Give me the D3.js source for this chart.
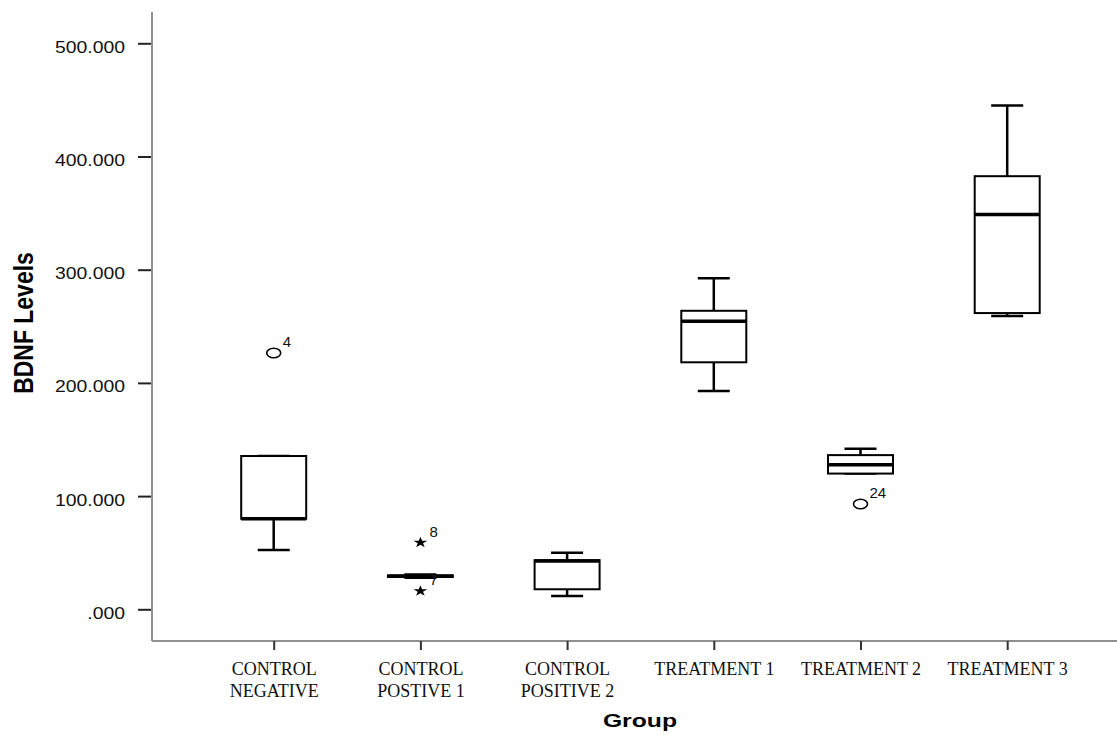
<!DOCTYPE html>
<html>
<head>
<meta charset="utf-8">
<script src="https://cdn.jsdelivr.net/npm/d3@7"></script>
<style>
  html, body { margin: 0; padding: 0; background: #fff; }
  svg { display: block; }
</style>
</head>
<body>
<div id="chart"></div>
<script>
// Box plot values (BDNF levels per group)
const groups = ["CONTROL NEGATIVE", "CONTROL POSTIVE 1", "CONTROL POSITIVE 2", "TREATMENT 1", "TREATMENT 2", "TREATMENT 3"];
const groupLabelLines = [["CONTROL", "NEGATIVE"], ["CONTROL", "POSTIVE 1"], ["CONTROL", "POSITIVE 2"], ["TREATMENT 1"], ["TREATMENT 2"], ["TREATMENT 3"]];
const whiskerLow  = [52.4, 27.8, 11.7, 192.8, 119.9, 259.1];
const q1          = [80.0, 28.6, 17.7, 218.2, 119.9, 261.7];
const median      = [80.0, 29.3, 42.6, 254.5, 127.7, 348.7];
const q3          = [135.4, 30.0, 43.4, 263.7, 136.2, 382.6];
const whiskerHigh = [135.4, 30.8, 50.0, 292.4, 141.8, 445.1];

// outliers: group, value, case number, marker (o = outlier, * = extreme)
const outlierGroup = ["CONTROL NEGATIVE", "CONTROL POSTIVE 1", "CONTROL POSTIVE 1", "TREATMENT 2"];
const outlierValue = [226.4, 59.0, 16.2, 93.0];
const outlierCase  = ["4", "8", "7", "24"];
const outlierMark  = ["o", "*", "*", "o"];

const yTicks = [0, 100, 200, 300, 400, 500];

function BoxPlot(container) {
    const width = 1117, height = 735;
    // plot frame
    const frame = { left: 152, right: 1117, top: 12, bottom: 641 };

    const svg = d3.select(container).append("svg")
        .attr("width", width)
        .attr("height", height);

    const x = d3.scalePoint().domain(groups).range([273.7, 1007.2]);
    const y = d3.scaleLinear().domain([0, 500]).range([609.3, 43.3]);

    const yFormat = d => d === 0 ? ".000" : d3.format(".3f")(d);

    // stretch text horizontally along its own direction
    function stretch(sel, k) {
        sel.each(function () {
            const w = this.getComputedTextLength();
            d3.select(this).attr("textLength", w * k).attr("lengthAdjust", "spacingAndGlyphs");
        });
    }

    // axis lines
    svg.append("line")
        .attr("x1", frame.left).attr("x2", frame.left)
        .attr("y1", frame.top).attr("y2", frame.bottom)
        .attr("stroke", "#8f8f8f").attr("stroke-width", 2);
    svg.append("line")
        .attr("x1", frame.left).attr("x2", frame.right)
        .attr("y1", frame.bottom).attr("y2", frame.bottom)
        .attr("stroke", "#8f8f8f").attr("stroke-width", 2);

    // y axis
    const yAxis = d3.axisLeft(y).tickValues(yTicks).tickFormat(yFormat).tickSize(13).tickPadding(13);
    const yg = svg.append("g")
        .attr("transform", `translate(${frame.left - 1},0)`)
        .call(yAxis);
    yg.select(".domain").remove();
    yg.selectAll(".tick line").attr("stroke", "#222").attr("stroke-width", 2);
    yg.selectAll(".tick text")
        .attr("dy", "0.53em")
        .style("font-family", "'Liberation Sans', Arial, sans-serif")
        .style("font-size", "17px")
        .attr("fill", "#111")
        .call(stretch, 1.14);

    // x axis
    const xAxis = d3.axisBottom(x).tickSize(9).tickFormat("");
    const xg = svg.append("g")
        .attr("transform", `translate(0,${frame.bottom})`)
        .call(xAxis);
    xg.select(".domain").remove();
    xg.selectAll(".tick line").attr("stroke", "#333").attr("stroke-width", 2);
    xg.selectAll(".tick").each(function (d, i) {
        const t = d3.select(this).append("text")
            .attr("fill", "#111")
            .attr("text-anchor", "middle")
            .style("font-family", "'Liberation Serif', 'Times New Roman', serif")
            .style("font-size", "18px");
        groupLabelLines[i].forEach((line, j) => {
            t.append("tspan").attr("x", 0).attr("y", 34 + j * 22).text(line);
        });
    });

    // axis titles
    svg.append("text")
        .attr("transform", "translate(33,323) rotate(-90)")
        .attr("text-anchor", "middle")
        .style("font-family", "'Liberation Sans', Arial, sans-serif")
        .style("font-weight", "bold")
        .style("font-size", "27px")
        .text("BDNF Levels")
        .call(stretch, 0.85);

    svg.append("text")
        .attr("x", 640)
        .attr("y", 727)
        .attr("text-anchor", "middle")
        .style("font-family", "'Liberation Sans', Arial, sans-serif")
        .style("font-weight", "bold")
        .style("font-size", "18.6px")
        .text("Group")
        .call(stretch, 1.33);

    // boxes
    const boxW = 65, capW = 32;
    const data = groups.map((g, i) => ({
        g, lo: whiskerLow[i], q1: q1[i], med: median[i], q3: q3[i], hi: whiskerHigh[i]
    }));

    const box = svg.append("g").selectAll("g").data(data).join("g")
        .attr("transform", d => `translate(${x(d.g)},0)`)
        .attr("stroke", "#000")
        .attr("fill", "none");

    // whisker stems
    box.append("line")
        .attr("y1", d => y(d.hi)).attr("y2", d => y(d.q3))
        .attr("stroke-width", 2.5);
    box.append("line")
        .attr("y1", d => y(d.q1)).attr("y2", d => y(d.lo))
        .attr("stroke-width", 2.5);
    // caps
    box.append("line")
        .attr("x1", -capW / 2).attr("x2", capW / 2)
        .attr("y1", d => y(d.hi)).attr("y2", d => y(d.hi))
        .attr("stroke-width", 2.5);
    box.append("line")
        .attr("x1", -capW / 2).attr("x2", capW / 2)
        .attr("y1", d => y(d.lo)).attr("y2", d => y(d.lo))
        .attr("stroke-width", 2.5);
    // box
    box.append("rect")
        .attr("x", -boxW / 2)
        .attr("width", boxW)
        .attr("y", d => y(d.q3))
        .attr("height", d => y(d.q1) - y(d.q3))
        .attr("fill", "#fff")
        .attr("stroke-width", 2);
    // median
    box.append("line")
        .attr("x1", -boxW / 2).attr("x2", boxW / 2)
        .attr("y1", d => y(d.med)).attr("y2", d => y(d.med))
        .attr("stroke-width", 3.5);

    // outliers
    const out = outlierGroup.map((g, i) => ({ g, v: outlierValue[i], id: outlierCase[i], m: outlierMark[i] }));
    const og = svg.append("g").selectAll("g").data(out).join("g")
        .attr("transform", d => `translate(${x(d.g)},${y(d.v)})`);

    og.filter(d => d.m === "o").append("ellipse")
        .attr("rx", 7).attr("ry", 4.8)
        .attr("fill", "none")
        .attr("stroke", "#000")
        .attr("stroke-width", 1.6);

    og.filter(d => d.m === "*").append("path")
        .attr("d", d3.symbol(d3.symbolStar, 38))
        .attr("transform", "scale(1.25,1)")
        .attr("fill", "#000");

    og.append("text")
        .attr("x", 9)
        .attr("y", -6)
        .style("font-family", "'Liberation Sans', Arial, sans-serif")
        .style("font-size", "15px")
        .attr("fill", "#111")
        .text(d => d.id);
}

BoxPlot("#chart");
</script>
</body>
</html>
